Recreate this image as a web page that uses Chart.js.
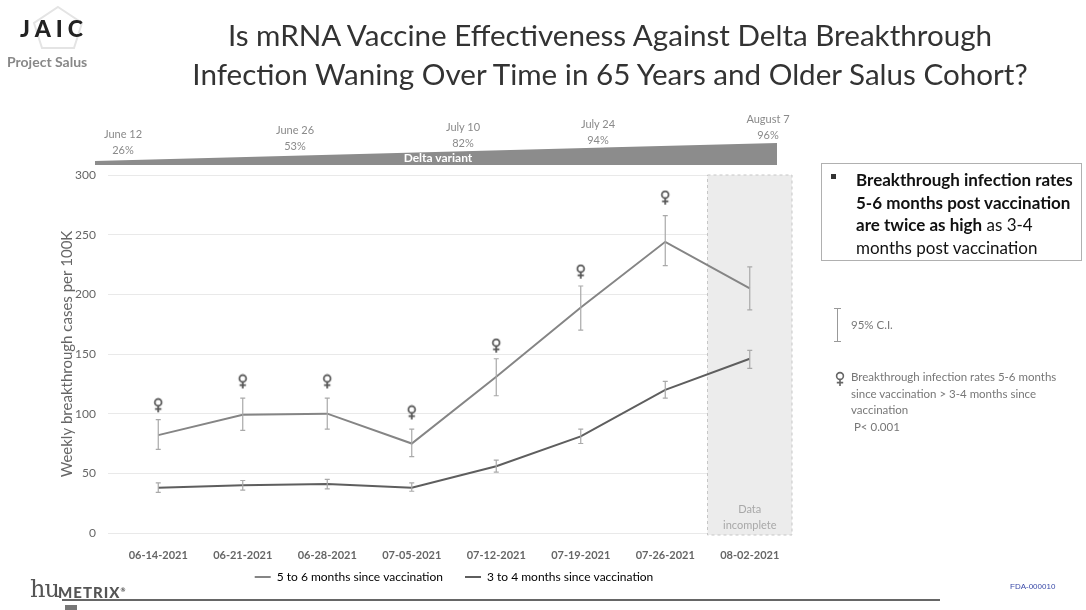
<!DOCTYPE html>
<html>
<head>
<meta charset="utf-8">
<script src="https://cdn.jsdelivr.net/npm/chart.js@4.4.0/dist/chart.umd.min.js"></script>
<style>
  body { margin: 0; background: #fff; font-family: Lato, 'Noto Sans', sans-serif; }
  #wrap { position: relative; width: 1086px; height: 610px; overflow: hidden; }
  #wrap canvas { position: absolute; left: 0; top: 0; }
  .abs { position: absolute; }
  .title { left: 110px; top: 15px; width: 1000px; text-align: center; font-size: 29.6px; line-height: 39px; color: #333; }
  .wk { color: #8a8a8a; font-size: 11px; line-height: 16px; text-align: center; width: 60px; }
  .delta { left: 95px; top: 143px; width: 682px; height: 22px; background: #8c8c8c;
           clip-path: polygon(0 82%, 100% 0, 100% 100%, 0 100%); }
  .box { left: 821px; top: 163px; width: 259px; height: 96px; border: 1.5px solid #b0b0b0; }
  .box p { margin: 0; position: absolute; left: 34px; top: 5px; font-size: 17px; line-height: 22.5px; color: #111; }
  .note { color: #777; font-size: 11.5px; line-height: 16.5px; }
</style>
</head>
<body>
<div id="wrap">
  <canvas id="chart" width="1086" height="610"></canvas>

  <svg class="abs" style="left:30px;top:5px" width="56" height="46">
    <polygon points="28,2 52,18 44,43 12,43 4,18" fill="none" stroke="#e4e4e4" stroke-width="2"/>
  </svg>
  <div class="abs" style="left:20px;top:14px;font-size:23px;font-weight:900;letter-spacing:5px;color:#222">JAIC</div>
  <div class="abs" style="left:7px;top:53px;font-size:14px;font-weight:700;color:#888">Project Salus</div>

  <div class="abs title">Is mRNA Vaccine Effectiveness Against Delta Breakthrough<br>Infection Waning Over Time in 65 Years and Older Salus Cohort?</div>

  <div class="abs delta"></div>
  <div class="abs" style="left:398px;top:150px;width:80px;text-align:center;color:#fff;font-weight:700;font-size:12px">Delta variant</div>
  <div class="abs wk" style="left:93px;top:126px">June 12<br>26%</div>
  <div class="abs wk" style="left:265px;top:122px">June 26<br>53%</div>
  <div class="abs wk" style="left:433px;top:119px">July 10<br>82%</div>
  <div class="abs wk" style="left:568px;top:116px">July 24<br>94%</div>
  <div class="abs wk" style="left:738px;top:111px">August 7<br>96%</div>

  <div class="abs box">
    <div class="abs" style="left:9px;top:10px;width:5px;height:5px;background:#333"></div>
    <p><b>Breakthrough infection rates<br>5-6 months post vaccination<br>are twice as high</b> as 3-4<br>months post vaccination</p>
  </div>

  <div class="abs" style="left:837px;top:308px;width:1px;height:34px;background:#999"></div>
  <div class="abs" style="left:834px;top:308px;width:7px;height:1px;background:#999"></div>
  <div class="abs" style="left:834px;top:341px;width:7px;height:1px;background:#999"></div>
  <div class="abs note" style="left:851px;top:317px">95% C.I.</div>
  <svg class="abs" style="left:834px;top:371px" width="12" height="16">
    <circle cx="6" cy="5" r="3.4" fill="none" stroke="#666" stroke-width="1.6"/>
    <path d="M6 8.4V15M2.8 11.6H9.2" stroke="#666" stroke-width="1.6"/>
  </svg>
  <div class="abs note" style="left:851px;top:369px">Breakthrough infection rates 5-6 months<br>since vaccination &gt; 3-4 months since<br>vaccination<br>&nbsp;P&lt; 0.001</div>

  <div class="abs" style="left:30px;top:577px;color:#555;font-family:'DejaVu Serif',serif;font-size:24px;line-height:24px;letter-spacing:-1px">hu</div>
  <div class="abs" style="left:58px;top:583px;color:#555;font-size:15px;font-weight:900;letter-spacing:1px">METRIX<sup style="font-size:6px">®</sup></div>
  <div class="abs" style="left:62px;top:599px;width:878px;height:2px;background:#666"></div>
  <div class="abs" style="left:65px;top:605px;width:12px;height:5px;background:#777"></div>
  <div class="abs" style="left:1010px;top:582px;color:#3a4aa8;font-size:8px;font-family:'Liberation Sans',sans-serif">FDA-000010</div>
</div>

<script>
// weekly breakthrough cases per 100K
const weeks = ['06-14-2021', '06-21-2021', '06-28-2021', '07-05-2021', '07-12-2021', '07-19-2021', '07-26-2021', '08-02-2021'];

const fiveToSix = [82, 99, 100, 75, 131, 189, 244, 205];
const fiveLow = [70, 86, 87, 64, 115, 170, 224, 187];
const fiveHigh = [95, 113, 113, 87, 146, 207, 266, 223];

const threeToFour = [38, 40, 41, 38, 56, 81, 120, 146];
const threeLow = [34, 36, 37, 35, 51, 75, 113, 138];
const threeHigh = [42, 44, 45, 42, 61, 87, 127, 153];

// p < 0.001 markers
const sigMarks = [107, 127, 127, 101, 157, 219, 281, null];

const yTicks = [0, 50, 100, 150, 200, 250, 300];

Chart.defaults.font.family = 'Lato';

// little venus-like glyph used in the slide
const venus = document.createElement('canvas');
venus.width = 12;
venus.height = 16;
(function () {
    const c = venus.getContext('2d');
    c.strokeStyle = '#555';
    c.lineWidth = 1.7;
    c.beginPath();
    c.arc(6, 5, 3.4, 0, Math.PI * 2);
    c.stroke();
    c.beginPath();
    c.moveTo(6, 8.4); c.lineTo(6, 15);
    c.moveTo(2.8, 11.6); c.lineTo(9.2, 11.6);
    c.stroke();
})();

const incomplete = {
    id: 'incomplete',
    beforeDatasetsDraw(chart) {
        const { ctx, chartArea, scales } = chart;
        const x6 = scales.x.getPixelForValue(6);
        const x7 = scales.x.getPixelForValue(7);
        const left = (x6 + x7) / 2;
        const right = x7 + (x7 - x6) / 2;
        ctx.save();
        ctx.fillStyle = '#ececec';
        ctx.fillRect(left, chartArea.top, right - left, chartArea.bottom - chartArea.top + 2);
        ctx.setLineDash([3, 3]);
        ctx.strokeStyle = '#c6c6c6';
        ctx.lineWidth = 1;
        ctx.strokeRect(left, chartArea.top, right - left, chartArea.bottom - chartArea.top + 2);
        ctx.fillStyle = '#a8a8a8';
        ctx.font = '11px Lato';
        ctx.textAlign = 'center';
        ctx.fillText('Data', x7, chartArea.bottom - 24);
        ctx.fillText('incomplete', x7, chartArea.bottom - 8);
        ctx.restore();
    }
};

const errorBars = {
    id: 'errorBars',
    afterDatasetsDraw(chart) {
        const { ctx, scales } = chart;
        const bars = [[fiveLow, fiveHigh], [threeLow, threeHigh]];
        ctx.save();
        ctx.strokeStyle = '#a9a9a9';
        ctx.lineWidth = 1.2;
        bars.forEach(([lo, hi]) => {
            lo.forEach((v, i) => {
                const x = scales.x.getPixelForValue(i);
                const y1 = scales.y.getPixelForValue(v);
                const y2 = scales.y.getPixelForValue(hi[i]);
                ctx.beginPath();
                ctx.moveTo(x, y1); ctx.lineTo(x, y2);
                ctx.moveTo(x - 2.5, y1); ctx.lineTo(x + 2.5, y1);
                ctx.moveTo(x - 2.5, y2); ctx.lineTo(x + 2.5, y2);
                ctx.stroke();
            });
        });
        ctx.restore();
    }
};

// pull the legend up a bit closer to the axis, like the slide
const legendUp = {
    id: 'legendUp',
    afterLayout(chart) {
        chart.legend.top -= 16;
        chart.legend.bottom -= 16;
    }
};

new Chart(document.getElementById('chart'), {
    type: 'line',
    data: {
        labels: weeks,
        datasets: [{
            label: '5 to 6 months since vaccination',
            data: fiveToSix,
            borderColor: '#858585',
            borderWidth: 2,
            pointRadius: 0,
            tension: 0
        }, {
            label: '3 to 4 months since vaccination',
            data: threeToFour,
            borderColor: '#5e5e5e',
            borderWidth: 2,
            pointRadius: 0,
            tension: 0
        }, {
            label: 'p<0.001',
            data: sigMarks,
            showLine: false,
            pointStyle: venus,
            pointRadius: 6
        }]
    },
    options: {
        responsive: false,
        animation: false,
        events: [],
        layout: {
            padding: { left: 56, right: 294, top: 175, bottom: 1 }
        },
        scales: {
            x: {
                offset: true,
                grid: { display: false },
                border: { display: false },
                ticks: { color: '#666', font: { size: 11, weight: 'bold' }, padding: 8 },
                afterFit: (s) => { s.height = 32; }
            },
            y: {
                min: 0,
                max: 300,
                afterBuildTicks: (s) => { s.ticks = yTicks.map(v => ({ value: v })); },
                grid: { color: '#e9e9e9' },
                border: { display: false },
                ticks: { color: '#666', font: { size: 12 }, padding: 12 },
                title: {
                    display: true,
                    text: 'Weekly breakthrough cases per 100K',
                    color: '#666',
                    font: { size: 15 },
                    padding: { top: 2, bottom: 0 }
                },
                afterFit: (s) => { s.width = 60; }
            }
        },
        plugins: {
            tooltip: { enabled: false },
            legend: {
                position: 'bottom',
                fullSize: false,
                labels: {
                    color: '#666',
                    font: { size: 12 },
                    boxWidth: 16,
                    boxHeight: 2,
                    padding: 22,
                    generateLabels: (chart) => chart.data.datasets.slice(0, 2).map((d, i) => ({
                        text: d.label,
                        fillStyle: d.borderColor,
                        strokeStyle: d.borderColor,
                        lineWidth: 0,
                        datasetIndex: i
                    }))
                }
            }
        }
    },
    plugins: [incomplete, errorBars, legendUp]
});
</script>
</body>
</html>
